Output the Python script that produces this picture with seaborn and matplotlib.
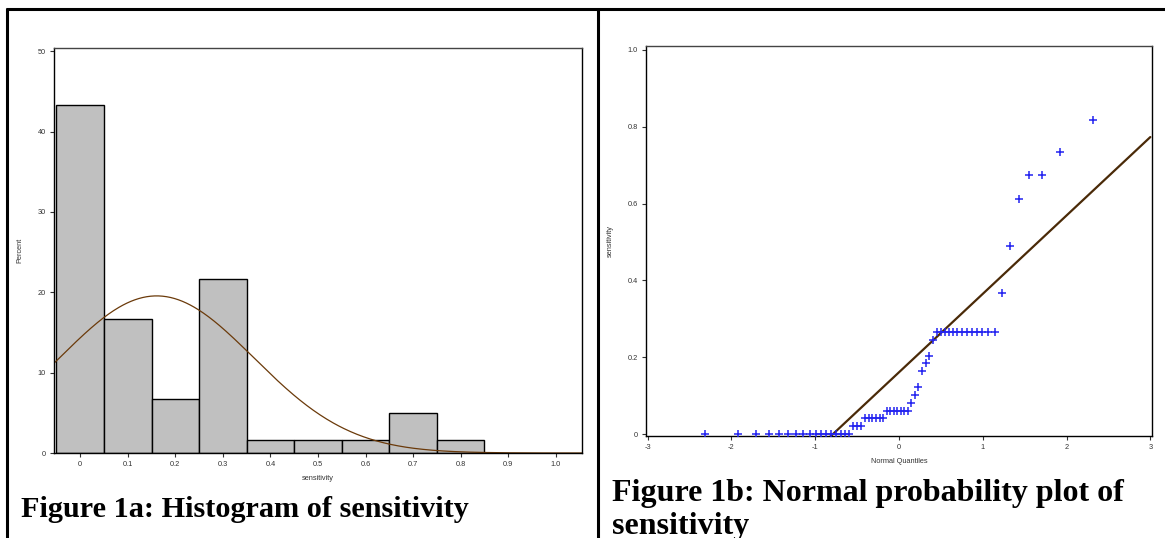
import numpy as np
import pandas as pd
import matplotlib
matplotlib.use("Agg")
import matplotlib.pyplot as plt
from matplotlib.lines import Line2D
import seaborn as sns
from statistics import NormalDist

# ---- data (sorted sensitivity values, n = 60) ----
zeros = [0.0] * 17
v002 = [0.0204] * 3
v004 = [0.0408] * 6
v006 = [0.0612] * 7
mid_vals = [0.0816, 0.102, 0.1224, 0.1633, 0.1837, 0.2041, 0.2449]
v027 = [0.2653] * 13
upper_vals = [0.3673, 0.4898, 0.6122, 0.6735, 0.6735, 0.7347, 0.8163]
sensitivity = np.array(zeros + v002 + v004 + v006 + mid_vals + v027 + upper_vals)

bin_edges = [-0.05, 0.05, 0.15, 0.25, 0.35, 0.45, 0.55, 0.65, 0.75, 0.85]
hist_xticks = [0, 0.1, 0.2, 0.3, 0.4, 0.5, 0.6, 0.7, 0.8, 0.9, 1.0]
hist_xticklabels = ["0", "0.1", "0.2", "0.3", "0.4", "0.5", "0.6", "0.7", "0.8", "0.9", "1.0"]
hist_yticks = [0, 10, 20, 30, 40, 50]
qq_xticks = [-3, -2, -1, 0, 1, 2, 3]
qq_yticks = [0, 0.2, 0.4, 0.6, 0.8, 1.0]
qq_yticklabels = ["0", "0.2", "0.4", "0.6", "0.8", "1.0"]

caption_a = "Figure 1a: Histogram of sensitivity"
caption_b_lines = ["Figure 1b: Normal probability plot of", "sensitivity"]

# ---- derived ----
n = len(sensitivity)
mu = sensitivity.mean()
sd = sensitivity.std(ddof=1)
nd = NormalDist()
quantiles = np.array([nd.inv_cdf((i - 0.375) / (n + 0.25)) for i in range(1, n + 1)])
qq_df = pd.DataFrame({"q": quantiles, "s": np.sort(sensitivity)})
hist_df = pd.DataFrame({"sensitivity": sensitivity})

xs = np.linspace(-0.055, 1.055, 400)
curve_df = pd.DataFrame({"x": xs,
                         "y": 100 * 0.1 * np.exp(-0.5 * ((xs - mu) / sd) ** 2) / (sd * np.sqrt(2 * np.pi))})
line_x = np.linspace(-3.05, 3.0, 50)
line_df = pd.DataFrame({"x": line_x, "y": mu + sd * line_x})

# ---- style ----
sns.set_theme(style="white")
plt.rcParams["font.family"] = ["Liberation Sans", "DejaVu Sans"]
plt.rcParams["axes.linewidth"] = 1.0
plt.rcParams["axes.edgecolor"] = "black"
plt.rcParams["axes.unicode_minus"] = False

W, H = 1165, 538
fig = plt.figure(figsize=(W / 100, H / 100), dpi=100)
fig.patch.set_facecolor("white")

def box(l, t, r, b):
    return [l / W, (H - b) / H, (r - l) / W, (b - t) / H]

tick_kw = dict(labelsize=5.3, colors="#333333", length=3, width=0.8, direction="out", pad=3)

# ---- histogram ----
ax1 = fig.add_axes(box(54, 48, 582, 453))
sns.histplot(data=hist_df, x="sensitivity", bins=bin_edges, stat="percent",
             color="#C0C0C0", edgecolor="black", linewidth=1.0, alpha=1.0, ax=ax1)
sns.lineplot(data=curve_df, x="x", y="y", color="#6B3A0A", linewidth=0.9, ax=ax1)
ax1.set_xlim(-0.055, 1.055)
ax1.set_ylim(0, 50.4)
ax1.set_xticks(hist_xticks)
ax1.set_xticklabels(hist_xticklabels)
ax1.set_yticks(hist_yticks)
ax1.tick_params(axis="both", bottom=True, left=True, **tick_kw)
ax1.set_xlabel("sensitivity", fontsize=5.3, color="#333333", labelpad=5)
ax1.set_ylabel("Percent", fontsize=5.3, color="#333333", labelpad=10)
for sp in ax1.spines.values():
    sp.set_color("black")
ax1.spines["top"].set_color("#444444")

# ---- QQ plot ----
ax2 = fig.add_axes(box(646, 46, 1152, 436))
sns.lineplot(data=line_df, x="x", y="y", color="#4A2A08", linewidth=1.6, ax=ax2)
sns.scatterplot(data=qq_df, x="q", y="s", marker="+", s=26, color="#2323F0",
                linewidth=1.1, ax=ax2, zorder=3)
ax2.set_xlim(-3.02, 3.02)
ax2.set_ylim(-0.005, 1.01)
ax2.set_xticks(qq_xticks)
ax2.set_yticks(qq_yticks)
ax2.set_yticklabels(qq_yticklabels)
ax2.tick_params(axis="both", bottom=True, left=True, **tick_kw)
ax2.set_xlabel("Normal Quantiles", fontsize=5.3, color="#333333", labelpad=5)
ax2.set_ylabel("sensitivity", fontsize=5.3, color="#333333", labelpad=10)
for sp in ax2.spines.values():
    sp.set_color("black")
ax2.spines["top"].set_color("#444444")

# ---- frame lines (table borders) ----
def fline(x0, y0, x1, y1, lw=2.2):
    fig.add_artist(Line2D([x0 / W, x1 / W], [(H - y0) / H, (H - y1) / H],
                          color="black", linewidth=lw, solid_capstyle="butt"))

fline(6, 9, W, 9)
fline(7, 8, 7, H)
fline(598, 8, 598, H)

# ---- captions ----
cap_font = ["Liberation Serif", "DejaVu Serif"]
fig.text(21 / W, (H - 517) / H, caption_a, family=cap_font, fontweight="bold",
         fontsize=21.8, color="black", ha="left", va="baseline")
fig.text(612 / W, (H - 501) / H, caption_b_lines[0], family=cap_font, fontweight="bold",
         fontsize=23.0, color="black", ha="left", va="baseline")
fig.text(612 / W, (H - 534) / H, caption_b_lines[1], family=cap_font, fontweight="bold",
         fontsize=23.0, color="black", ha="left", va="baseline")

fig.savefig("out.png", dpi=100, facecolor="white")
